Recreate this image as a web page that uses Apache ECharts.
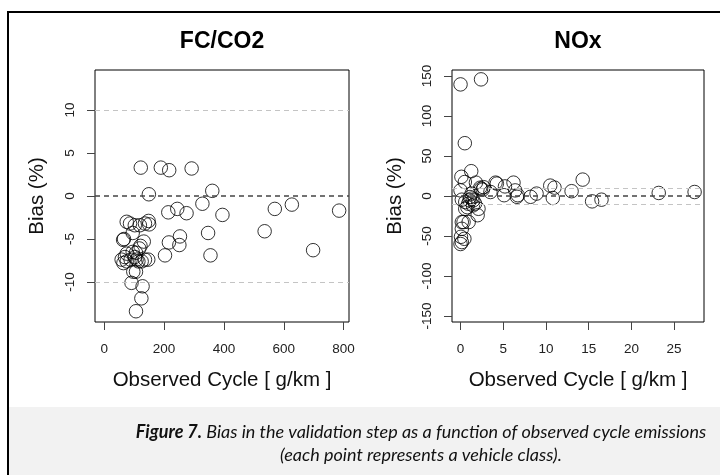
<!DOCTYPE html>
<html>
<head>
<meta charset="utf-8">
<title>Figure 7 - Bias in the validation step</title>
<script src="https://cdn.jsdelivr.net/npm/echarts@6.0.0/dist/echarts.min.js"></script>
<style>
  html, body { margin: 0; padding: 0; background: #fff; }
  #chart { width: 720px; height: 475px; }
</style>
</head>
<body>
<div id="chart"></div>
<script>
// FC/CO2 panel: observed cycle [g/km] vs bias (%)
const fcX = [122, 189, 217, 292, 149, 361, 328, 214, 244, 275, 395, 570, 627, 785, 536, 347, 698, 355, 203, 216,
  251, 253, 75, 86, 102, 119, 136, 148, 150, 95, 66, 63, 132, 121, 117, 75, 69, 58, 64, 75,
  88, 102, 108, 114, 125, 136, 147, 106, 95, 97, 106, 91, 128, 124, 106]
const fcY = [3.3, 3.3, 3.0, 3.2, 0.2, 0.6, -0.9, -1.9, -1.5, -2.0, -2.2, -1.5, -1.0, -1.7, -4.1, -4.3, -6.3, -6.9, -6.9, -5.4,
  -5.7, -4.7, -3.0, -3.2, -3.4, -3.4, -3.2, -2.9, -3.3, -4.3, -5.0, -5.1, -5.3, -5.8, -6.1, -6.7, -7.1, -7.4, -7.8, -7.6,
  -7.4, -7.1, -7.4, -7.6, -7.6, -7.4, -7.4, -6.6, -6.5, -8.8, -8.8, -10.1, -10.5, -11.9, -13.4]

// NOx panel
const noxX = [0.0, 2.4, 0.5, 1.25, 0.1, 0.5, 1.8, 4.1, 4.25, 6.2, 5.2, 6.4, 2.4, 2.7, 3.5, 5.1, 6.7, 6.6, 8.2, 8.9,
  10.5, 11.0, 10.8, 13.0, 14.3, 15.4, 16.5, 23.2, 27.4, 0.0, 0.15, 0.55, 0.9, 1.1, 1.3, 1.5, 1.7, 2.1, 2.0, 0.8,
  0.55, 0.15, 0.35, 0.95, 0.15, 0.05, 0.45, 0.15, 0.0, 1.3, 1.05, 1.45, 2.3, 2.6]
const noxY = [139.5, 145.8, 66, 31, 24, 17.5, 16.7, 16.7, 15.5, 16.7, 12, 7, 9, 11, 5, 1, 1, -1, -1, 3,
  13, 10.5, -2.5, 6, 20.5, -6.7, -4.6, 3.8, 5, 7, -4.6, -7.5, -9.6, -1.3, 3, -5.4, -9.6, -16, -24, -14,
  -16, -32.6, -32.6, -32.6, -41, -51, -53.5, -57.6, -60, -3.3, -5.4, -11.7, 10.4, 8]

// tick labels
const fcXTicks = [0, 200, 400, 600, 800]
const fcYTicks = [-10, -5, 0, 5, 10]
const noxXTicks = [0, 5, 10, 15, 20, 25]
const noxYTicks = [-150, -100, -50, 0, 50, 100, 150]

// dashed reference lines (0 drawn darker)
const fcRefLines = [-10, 0, 10]
const noxRefLines = [-10, 0, 10]

const FONT = '"Liberation Sans", Arial, sans-serif'
const CAPTION_FONT = 'Lato, "Open Sans", sans-serif'

function toPoints(xs, ys) {
  return xs.map((x, i) => [x, ys[i]])
}

function refLineData(values) {
  return values.map(v => ({
    yAxis: v,
    lineStyle: v === 0
      ? { color: '#444', width: 1.6, type: [5, 4] }
      : { color: '#c4c4c4', width: 1, type: [5, 4] }
  }))
}

function xAxisOf(gridIndex, min, max, ticks) {
  return {
    type: 'value', gridIndex, min, max,
    axisLine: { show: false, onZero: false },
    axisTick: { show: true, length: 8, customValues: ticks, lineStyle: { color: '#444' } },
    axisLabel: { customValues: ticks, margin: 20, fontFamily: FONT, fontSize: 13.5, color: '#222' },
    splitLine: { show: false },
    name: 'Observed Cycle [ g/km ]',
    nameLocation: 'middle', nameGap: 48,
    nameTextStyle: { fontFamily: FONT, fontSize: 20.5, color: '#111' }
  }
}

function yAxisOf(gridIndex, min, max, ticks, nameGap) {
  return {
    type: 'value', gridIndex, min, max,
    axisLine: { show: false, onZero: false },
    axisTick: { show: true, length: 8, customValues: ticks, lineStyle: { color: '#444' } },
    axisLabel: { customValues: ticks, rotate: 90, margin: 18, fontFamily: FONT, fontSize: 13.5, color: '#222' },
    splitLine: { show: false },
    name: 'Bias (%)',
    nameLocation: 'middle', nameRotate: 90, nameGap,
    nameTextStyle: { fontFamily: FONT, fontSize: 20.5, color: '#111' }
  }
}

function scatterOf(idx, xs, ys, lines) {
  return {
    type: 'scatter', xAxisIndex: idx, yAxisIndex: idx,
    data: toPoints(xs, ys),
    symbol: 'circle', symbolSize: 13.5,
    itemStyle: { color: 'rgba(0,0,0,0)', borderColor: '#000', borderWidth: 1 },
    emphasis: { disabled: true },
    markLine: {
      silent: true, symbol: 'none', label: { show: false },
      data: refLineData(lines)
    }
  }
}

const chart = echarts.init(document.getElementById('chart'))
chart.setOption({
  animation: false,
  backgroundColor: '#fff',
  grid: [
    { left: 95, top: 70, width: 254, height: 252, show: true, borderColor: '#000', borderWidth: 1, backgroundColor: 'transparent' },
    { left: 452, top: 70, width: 252, height: 252, show: true, borderColor: '#000', borderWidth: 1, backgroundColor: 'transparent' }
  ],
  xAxis: [
    xAxisOf(0, -31, 818, fcXTicks),
    xAxisOf(1, -1.0, 28.5, noxXTicks)
  ],
  yAxis: [
    yAxisOf(0, -14.65, 14.65, fcYTicks, 47),
    yAxisOf(1, -157.5, 157.5, noxYTicks, 46)
  ],
  series: [
    scatterOf(0, fcX, fcY, fcRefLines),
    scatterOf(1, noxX, noxY, noxRefLines)
  ],
  graphic: [
    // caption band
    { type: 'rect', z: -10, shape: { x: 9, y: 407, width: 720, height: 80 }, style: { fill: '#f2f2f2' } },
    // outer frame
    { type: 'rect', z: 10, shape: { x: 8, y: 12, width: 730, height: 480 }, style: { fill: 'none', stroke: '#000', lineWidth: 2 } },
    { type: 'text', x: 222, y: 42, style: { text: 'FC/CO2', fontFamily: FONT, fontSize: 23, fontWeight: 'bold', fill: '#000', align: 'center', verticalAlign: 'middle' } },
    { type: 'text', x: 578, y: 42, style: { text: 'NOx', fontFamily: FONT, fontSize: 23, fontWeight: 'bold', fill: '#000', align: 'center', verticalAlign: 'middle' } },
    {
      type: 'text', x: 421, y: 432,
      style: {
        text: '{b|Figure 7.} Bias in the validation step as a function of observed cycle emissions',
        fontFamily: CAPTION_FONT, fontSize: 18, fontStyle: 'italic', fill: '#111',
        align: 'center', verticalAlign: 'middle',
        rich: { b: { fontFamily: CAPTION_FONT, fontSize: 18, fontStyle: 'italic', fontWeight: 'bold', fill: '#111' } }
      }
    },
    {
      type: 'text', x: 421, y: 455,
      style: {
        text: '(each point represents a vehicle class).',
        fontFamily: CAPTION_FONT, fontSize: 18, fontStyle: 'italic', fill: '#111',
        align: 'center', verticalAlign: 'middle'
      }
    }
  ]
})
</script>
</body>
</html>
